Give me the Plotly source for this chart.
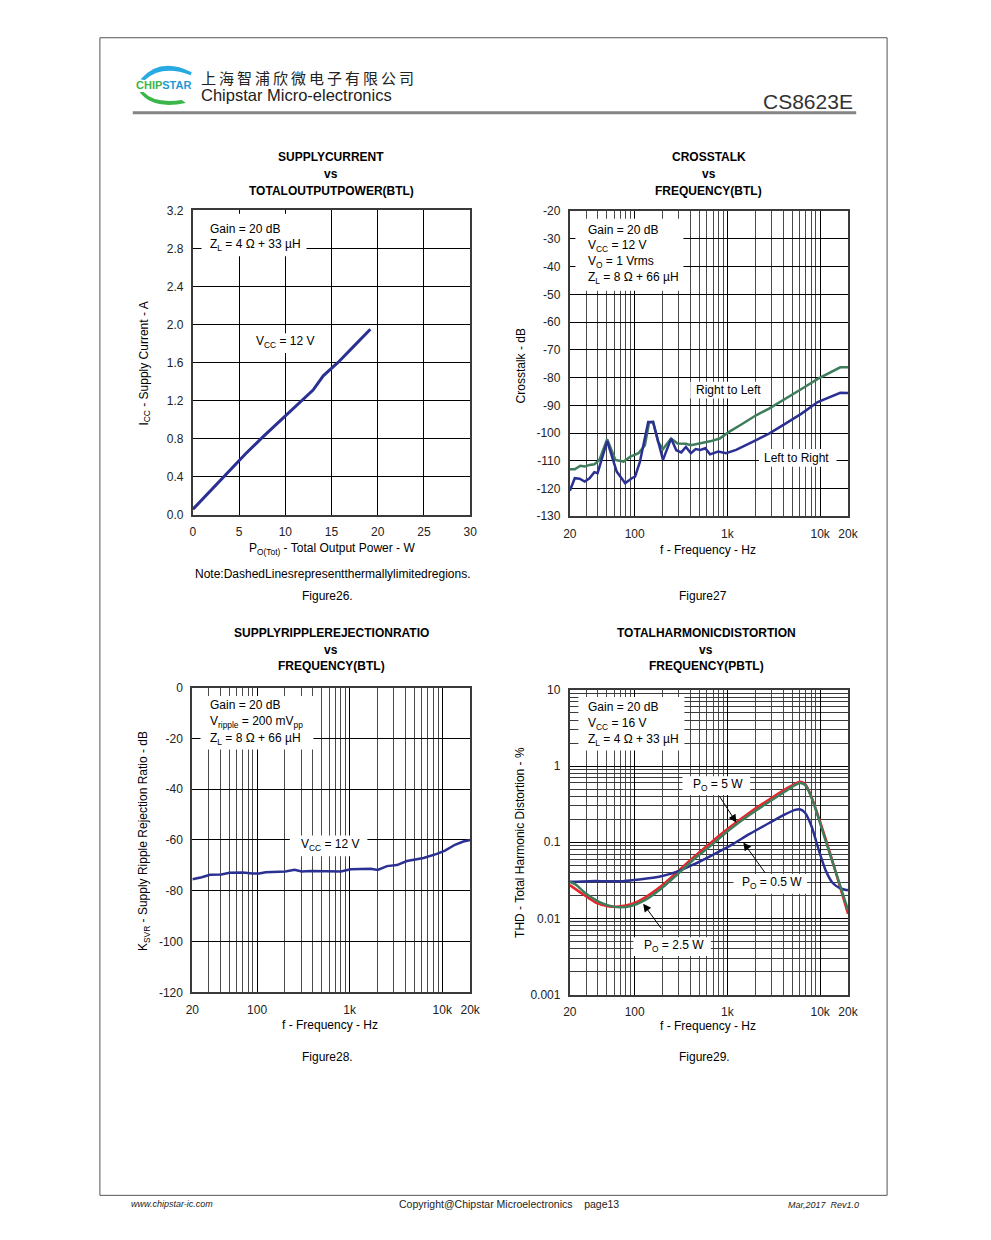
import plotly.graph_objects as go
import numpy as np

# The page is 991x1240; the browser body has an 8px margin, so the figure is 16px smaller
PAGE_W, PAGE_H = 991, 1240
OFF = 8
W, H = PAGE_W - 2 * OFF, PAGE_H - 2 * OFF
FONT = "Liberation Sans, Arial, sans-serif"

# ---------------- DATA ----------------
# Figure 26: Supply current vs total output power
fig26_power = [0, 1.8, 3.6, 5.7, 7.6, 10.0, 11.8, 13.0, 14.1, 15.7, 17.5, 19.2]
fig26_current = [0.055, 0.24, 0.42, 0.64, 0.82, 1.04, 1.21, 1.31, 1.46, 1.60, 1.78, 1.95]

# Figure 27: Crosstalk vs frequency
xt_freq_rl = [20, 22.6, 25.9, 28.9, 32.6, 36.7, 41.6, 50.5, 62, 76, 90, 110, 129, 143, 158, 179, 202,
              247, 290, 357, 404, 512, 650, 825, 1040, 1370, 2040, 2810, 4230, 6300, 9420, 14000, 16500, 20000]
xt_right_to_left = [-113.1, -113.1, -111.8, -112.1, -111.5, -111.3, -109.7, -102.2, -109.7, -110.3, -108.5,
                    -107.3, -104.4, -96.2, -96.0, -103.2, -105.8, -102.0, -103.8, -103.9, -104.4, -103.8,
                    -103.0, -102.0, -99.6, -97.2, -93.6, -91.2, -87.7, -84.1, -80.5, -77.5, -76.3, -76.3]
xt_freq_lr = [20, 22.6, 25.5, 28.9, 32.6, 36.7, 39.8, 50.5, 64, 79, 93, 101, 114, 140, 158, 202, 247, 281,
              318, 357, 404, 455, 512, 577, 650, 795, 970, 1240, 1870, 2810, 4230, 6300, 9420, 14000,
              16500, 20000]
xt_left_to_right = [-120.8, -116.3, -116.5, -117.5, -116.3, -114.1, -114.5, -102.9, -113.9, -118.1, -116.3,
                    -115.7, -110.3, -96.0, -96.0, -109.7, -102.0, -106.2, -107.0, -105.0, -107.3, -105.8,
                    -106.1, -105.5, -107.7, -106.7, -107.3, -106.1, -103.2, -100.2, -96.6, -93.0, -88.8,
                    -86.5, -85.5, -85.6]

# Figure 28: Supply ripple rejection ratio vs frequency
svr_freq = [20, 25.3, 31, 41, 50.5, 70, 89, 105, 124, 202, 254, 303, 384, 627, 803, 1026, 1430, 1685,
            2010, 2530, 3240, 4150, 6280, 8730, 10700, 13700, 16900, 20000]
svr_db = [-75.5, -74.7, -73.7, -73.6, -72.9, -72.8, -73.2, -73.2, -72.7, -72.4, -71.7, -72.4, -72.2,
          -72.2, -72.4, -71.5, -71.2, -71.3, -71.8, -70.3, -69.9, -68.3, -67.1, -65.5, -64.2, -61.9,
          -60.6, -60.0]

# Figure 29: THD vs frequency
thd_freq_5w = [20, 27.7, 38, 53, 67, 93, 129, 194, 292, 438, 657, 1060, 1740, 2820, 4230, 5360, 6050,
               6840, 8020, 10300, 13000, 16100, 20000]
thd_5w = [0.0274, 0.0208, 0.0162, 0.0144, 0.0144, 0.0155, 0.0188, 0.0266, 0.0415, 0.0646, 0.098, 0.157,
          0.246, 0.365, 0.50, 0.586, 0.622, 0.586, 0.403, 0.166, 0.068, 0.028, 0.0115]
thd_freq_25w = [20, 23, 29, 43, 59, 70, 93, 129, 194, 292, 438, 657, 1060, 1740, 2820, 4230, 5360, 6160,
                7000, 8330, 10300, 13000, 16100, 20000]
thd_25w = [0.0303, 0.028, 0.0218, 0.0162, 0.0143, 0.0140, 0.0147, 0.0174, 0.0248, 0.0384, 0.0604,
           0.0897, 0.147, 0.23, 0.34, 0.467, 0.564, 0.598, 0.553, 0.347, 0.158, 0.0648, 0.0294, 0.0129]
thd_freq_05w = [20, 32.6, 49.4, 74.7, 112, 194, 292, 438, 657, 1060, 1740, 2820, 4230, 5360, 6050, 6840,
                8020, 9800, 11600, 13600, 16100, 20000]
thd_05w = [0.0303, 0.0309, 0.0309, 0.0309, 0.0324, 0.0358, 0.0415, 0.0515, 0.066, 0.0897, 0.129, 0.179,
           0.234, 0.266, 0.271, 0.246, 0.166, 0.075, 0.0415, 0.0294, 0.0253, 0.0234]

freq_major = [20, 100, 1000, 10000, 20000]
freq_major_text = ["20", "100", "1k", "10k", "20k"]
freq_minor = [30, 40, 50, 60, 70, 80, 90, 200, 300, 400, 500, 600, 700, 800, 900,
              2000, 3000, 4000, 5000, 6000, 7000, 8000, 9000]
thd_major = [0.001, 0.01, 0.1, 1, 10]
thd_major_text = ["0.001", "0.01", "0.1", "1", "10"]
thd_minor = [m * d for d in [0.001, 0.01, 0.1, 1] for m in range(2, 10)]
xt_ticks = [-130, -120, -110, -100, -90, -80, -70, -60, -50, -40, -30, -20]
svr_ticks = [-120, -100, -80, -60, -40, -20, 0]

# ---------------- helpers ----------------
def PX(x):
    return (x - OFF) / W

def PY(y):
    return 1 - (y - OFF) / H

annotations = []
shapes = []

def text(x, y, s, size=12, xanchor="center", yanchor="middle", bold=False, angle=0, color="black",
         italic=False, family=FONT):
    if bold:
        s = "<b>" + s + "</b>"
    if italic:
        s = "<i>" + s + "</i>"
    annotations.append(dict(x=PX(x), y=PY(y), xref="paper", yref="paper", text=s, showarrow=False,
                            xanchor=xanchor, yanchor=yanchor, textangle=angle,
                            font=dict(size=size, color=color, family=family)))

def box(x0, y0, x1, y1):
    shapes.append(dict(type="rect", xref="paper", yref="paper", x0=PX(x0), x1=PX(x1), y0=PY(y1), y1=PY(y0),
                       fillcolor="white", line=dict(width=0), layer="above"))

def arrow(x_tail, y_tail, x_head, y_head):
    annotations.append(dict(x=PX(x_head), y=PY(y_head), xref="paper", yref="paper", text="",
                            showarrow=True, ax=x_tail - x_head, ay=y_tail - y_head,
                            axref="pixel", ayref="pixel", arrowhead=2, arrowsize=1.6,
                            arrowwidth=1, arrowcolor="black"))

def P(x, y):
    return f"{PX(x):.5f},{PY(y):.5f}"

# ---------------- figure ----------------
fig = go.Figure()

BLUE = "#2b3192"
GREEN = "#3e7d5c"
RED = "#e8252b"

fig.add_trace(go.Scatter(x=fig26_power, y=fig26_current, mode="lines",
                         line=dict(color=BLUE, width=3), xaxis="x", yaxis="y", showlegend=False))
fig.add_trace(go.Scatter(x=xt_freq_rl, y=xt_right_to_left, mode="lines",
                         line=dict(color=GREEN, width=2.5), xaxis="x2", yaxis="y2", showlegend=False))
fig.add_trace(go.Scatter(x=xt_freq_lr, y=xt_left_to_right, mode="lines",
                         line=dict(color=BLUE, width=2.5), xaxis="x2", yaxis="y2", showlegend=False))
fig.add_trace(go.Scatter(x=svr_freq, y=svr_db, mode="lines",
                         line=dict(color=BLUE, width=2.5), xaxis="x3", yaxis="y3", showlegend=False))
fig.add_trace(go.Scatter(x=thd_freq_5w, y=thd_5w, mode="lines",
                         line=dict(color=RED, width=2.5, shape="spline", smoothing=0.8),
                         xaxis="x4", yaxis="y4", showlegend=False))
fig.add_trace(go.Scatter(x=thd_freq_05w, y=thd_05w, mode="lines",
                         line=dict(color=BLUE, width=2.5, shape="spline", smoothing=0.8),
                         xaxis="x4", yaxis="y4", showlegend=False))
fig.add_trace(go.Scatter(x=thd_freq_25w, y=thd_25w, mode="lines",
                         line=dict(color=GREEN, width=2.5, shape="spline", smoothing=0.8),
                         xaxis="x4", yaxis="y4", showlegend=False))

tickfont = dict(size=12, color="#222", family=FONT)
common = dict(showline=True, mirror=True, linecolor="#3a3a3a", linewidth=2, zeroline=False,
              ticks="", showgrid=True, gridcolor="black", gridwidth=1, tickfont=tickfont,
              ticklabelstandoff=5)

log_x_common = dict(type="log", range=[np.log10(20), np.log10(20000)], tickmode="array",
                    tickvals=freq_major, ticktext=freq_major_text,
                    minor=dict(tickmode="array", tickvals=freq_minor, showgrid=True,
                               gridcolor="#4a4a4a", gridwidth=1, ticks=""))

fig.update_layout(
    width=W, height=H, margin=dict(l=0, r=0, t=0, b=0),
    paper_bgcolor="white", plot_bgcolor="white",
    xaxis=dict(domain=[PX(189.3), PX(471.7)], range=[0, 30], dtick=5, tick0=0, anchor="y", **common),
    yaxis=dict(domain=[PY(513.3), PY(205.7)], range=[0, 3.2], dtick=0.4, tick0=0, tickformat=".1f",
               anchor="x", **common),
    xaxis2=dict(domain=[PX(573.3), PX(856.7)], anchor="y2", **log_x_common, **common),
    yaxis2=dict(domain=[PY(515), PY(206.5)], range=[-130, -20], tickmode="array", tickvals=xt_ticks,
                ticktext=[str(v) for v in xt_ticks], anchor="x2", **common),
    xaxis3=dict(domain=[PX(188.7), PX(471.7)], anchor="y3", **log_x_common, **common),
    yaxis3=dict(domain=[PY(996.7), PY(688.3)], range=[-120, 0], tickmode="array", tickvals=svr_ticks,
                ticktext=[str(v) for v in svr_ticks], anchor="x3", **common),
    xaxis4=dict(domain=[PX(573.3), PX(856.7)], anchor="y4", **log_x_common, **common),
    yaxis4=dict(domain=[PY(999), PY(690.7)], type="log", range=[-3, 1], tickmode="array",
                tickvals=thd_major, ticktext=thd_major_text, anchor="x4",
                minor=dict(tickmode="array", tickvals=thd_minor, showgrid=True,
                           gridcolor="#3a3a3a", gridwidth=1, ticks=""), **common),
)

# ---------------- page decoration ----------------
shapes.append(dict(type="rect", xref="paper", yref="paper", x0=PX(94.5), x1=PX(896.5), y0=PY(1202), y1=PY(31),
                   line=dict(color="#555", width=1), fillcolor="rgba(0,0,0,0)", layer="below"))
shapes.append(dict(type="line", xref="paper", yref="paper", x0=PX(128), x1=PX(865), y0=PY(107), y1=PY(107),
                   line=dict(color="#858585", width=3)))
# logo arcs
shapes.append(dict(type="path", xref="paper", yref="paper",
                   path=f"M {P(136,73)} Q {P(156,50)} {P(188,66)} L {P(187,69)} Q {P(158,58)} {P(140,74)} Z",
                   fillcolor="#27aae1", line=dict(width=0)))
shapes.append(dict(type="path", xref="paper", yref="paper",
                   path=f"M {P(135,86)} Q {P(148,104)} {P(182,97)} L {P(178,94)} Q {P(150,98)} {P(139,86)} Z",
                   fillcolor="#3cb54a", line=dict(width=0)))
annotations.append(dict(x=PX(159), y=PY(79), xref="paper", yref="paper", showarrow=False,
                        text="<b><span style='color:#3cb54a'>CHIP</span><span style='color:#1f9ad6'>STAR</span></b>",
                        font=dict(size=11, family="Liberation Sans Narrow, Arial Narrow, " + FONT),
                        xanchor="center", yanchor="middle"))
cjk = "\u2009".join("上海智浦欣微电子有限公司")
text(195, 71, cjk, size=15, xanchor="left", family="Noto Sans CJK SC", color="#222")
text(195, 89, "Chipstar Micro-electronics", size=16.5, xanchor="left", color="#222")
text(864, 95, "CS8623E", size=21, xanchor="right", color="#333")

# footer
text(124, 1211, "www.chipstar-ic.com", size=9, xanchor="left", italic=True, color="#222")
text(511, 1211, "Copyright@Chipstar Microelectronics&nbsp;&nbsp;&nbsp;&nbsp;page13", size=10.5, color="#222")
text(870, 1212, "Mar,2017&nbsp;&nbsp;Rev1.0", size=9, xanchor="right", italic=True, color="#222")

# ---------------- chart titles ----------------
for cx, y0, lines in [(330, 152, ["SUPPLYCURRENT", "vs", "TOTALOUTPUTPOWER(BTL)"]),
                      (715, 152, ["CROSSTALK", "vs", "FREQUENCY(BTL)"]),
                      (330, 633, ["SUPPLYRIPPLEREJECTIONRATIO", "vs", "FREQUENCY(BTL)"]),
                      (712, 633, ["TOTALHARMONICDISTORTION", "vs", "FREQUENCY(PBTL)"])]:
    for i, s in enumerate(lines):
        text(cx, y0 + 17 * i, s, size=12, bold=True)

# axis titles
text(140, 361, "I<sub>CC</sub> - Supply Current - A", angle=-90)
text(331, 548, "P<sub>O(Tot)</sub> - Total Output Power - W")
text(523, 363, "Crosstalk - dB", angle=-90)
text(714, 549, "f - Frequency - Hz")
text(140, 844, "K<sub>SVR</sub> - Supply Ripple Rejection Ratio - dB", angle=-90)
text(329, 1030, "f - Frequency - Hz")
text(523, 845, "THD - Total Harmonic Distortion - %", angle=-90)
text(714, 1031, "f - Frequency - Hz")

# notes and figure labels
text(331, 573, "Note:DashedLinesrepresentthermallylimitedregions.")
text(326, 596, "Figure26.")
text(709, 596, "Figure27")
text(326, 1062, "Figure28.")
text(710, 1062, "Figure29.")

# ---------------- in-chart annotations ----------------
# Fig 26
box(198, 209, 305, 252)
text(205, 224, "Gain = 20 dB", xanchor="left")
text(205, 241, "Z<sub>L</sub> = 4 Ω + 33 µH", xanchor="left")
box(248, 330, 318, 350)
text(252, 339, "V<sub>CC</sub> = 12 V", xanchor="left")

# Fig 27
box(579, 214, 689, 287)
text(590, 225, "Gain = 20 dB", xanchor="left")
text(590, 242, "V<sub>CC</sub> = 12 V", xanchor="left")
text(590, 258, "V<sub>O</sub> = 1 Vrms", xanchor="left")
text(590, 274, "Z<sub>L</sub> = 8 Ω + 66 µH", xanchor="left")
box(696, 379, 773, 396)
text(735, 387, "Right to Left")
box(766, 447, 845, 465)
text(804, 456, "Left to Right")

# Fig 28
box(197, 697, 312, 751)
text(205, 706, "Gain = 20 dB", xanchor="left")
text(205, 723, "V<sub>ripple</sub> = 200 mV<sub>pp</sub>", xanchor="left")
text(205, 740, "Z<sub>L</sub> = 8 Ω + 66 µH", xanchor="left")
box(288, 838, 367, 859)
text(297, 848, "V<sub>CC</sub> = 12 V", xanchor="left")

# Fig 29
box(582, 698, 690, 752)
text(590, 708, "Gain = 20 dB", xanchor="left")
text(590, 725, "V<sub>CC</sub> = 16 V", xanchor="left")
text(590, 741, "Z<sub>L</sub> = 4 Ω + 33 µH", xanchor="left")
box(688, 778, 757, 797)
text(697, 787, "P<sub>O</sub> = 5 W", xanchor="left")
box(740, 877, 815, 897)
text(747, 886, "P<sub>O</sub> = 0.5 W", xanchor="left")
box(638, 941, 717, 960)
text(647, 950, "P<sub>O</sub> = 2.5 W", xanchor="left")
arrow(725, 797, 743, 825)
arrow(773, 877, 750, 845)
arrow(667, 933, 648, 907)

fig.update_layout(annotations=annotations, shapes=shapes)
fig.write_html("out.html")
